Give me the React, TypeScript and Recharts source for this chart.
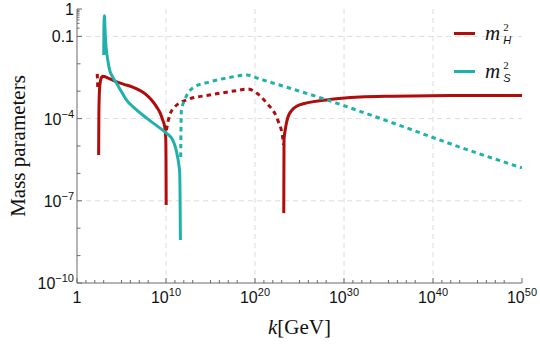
import React from "react";
import { LineChart, Line, XAxis, YAxis, CartesianGrid, Legend } from "recharts";

if (typeof document !== "undefined") document.body.style.margin = "0";

const RED = "#B00C0C";
const TEAL = "#20B2AA";
const FRAME = "#6b6b6b";

// segments as [log10(k/GeV), log10|m^2|]
// solid = positive, dotted = negative
const mH2Neg1: [number, number][] = [
  [2.27, -2.37], [2.3, -2.55], [2.33, -2.85],
];
const mH2Pos1: [number, number][] = [
  [2.43, -5.33], [2.46, -3.8], [2.52, -3.0], [2.62, -2.65], [2.75, -2.5], [2.9, -2.45],
  [3.5, -2.52], [4.46, -2.66], [5.3, -2.75], [6.26, -2.85], [7.1, -2.98], [7.83, -3.14],
  [8.4, -3.33], [8.96, -3.58], [9.35, -3.8], [9.63, -4.05], [9.85, -4.3], [9.97, -4.7],
  [10.0, -5.5], [10.02, -7.15],
];
const mH2Neg2: [number, number][] = [
  [10.04, -4.42], [10.42, -3.87], [10.98, -3.58], [12.3, -3.32], [14.9, -3.14],
  [17.9, -2.98], [19.2, -2.92], [20.2, -3.07], [21.3, -3.43], [22.55, -4.05],
  [23.1, -4.67], [23.2, -4.96],
];
const mH2Pos2: [number, number][] = [
  [23.23, -7.45], [23.26, -4.78], [23.45, -4.31], [23.9, -3.8], [25.0, -3.5],
  [28.0, -3.32], [31.8, -3.21], [35.5, -3.18], [42.0, -3.16], [50.0, -3.16],
];
const mS2Pos1: [number, number][] = [
  [3.0, -1.68], [3.03, -0.6], [3.08, -0.25], [3.15, -0.75], [3.2, -1.1], [3.3, -1.5],
  [3.45, -1.85], [3.67, -2.23], [4.0, -2.48], [4.43, -2.7], [5.0, -3.02], [5.55, -3.32],
  [6.4, -3.6], [7.38, -3.87], [8.3, -4.1], [9.29, -4.34], [10.04, -4.53], [10.75, -4.78],
  [11.1, -5.1], [11.3, -5.4], [11.45, -5.7], [11.54, -6.0], [11.58, -6.8], [11.62, -8.43],
];
const mS2Neg1: [number, number][] = [
  [11.65, -5.4], [11.73, -3.69], [12.1, -3.32], [13.0, -2.88], [14.9, -2.66],
  [16.8, -2.52], [19.1, -2.41], [20.5, -2.55], [28.1, -3.32], [35.5, -4.16],
  [43.0, -5.04], [50.0, -5.8],
];

const xMajorExps = [0, 10, 20, 30, 40, 50];
const xMinorSteps = [1, 2, 3, 5, 6, 7, 8];
const yMajorExps = [0, -1, -4, -7, -10];
const yMinorExps = [-2, -3, -5, -6, -8, -9];
const yTopFractions = [0.2, 0.3, 0.4, 0.5, 0.6, 0.7, 0.8, 0.9];

const rows = (pts: [number, number][]) => pts.map(([lk, lm]) => ({ k: 10 ** lk, m: 10 ** lm }));

const xTicks = [
  ...xMajorExps.map((e) => 10 ** e),
  ...xMajorExps.slice(0, -1).flatMap((e) => xMinorSteps.map((s) => 10 ** (e + s))),
].sort((a, b) => a - b);
const yTicks = [
  ...yMajorExps.map((e) => 10 ** e),
  ...yMinorExps.map((e) => 10 ** e),
  ...yTopFractions,
].sort((a, b) => a - b);

const near = (a: number, b: number) => Math.abs(a - b) < 1e-6;
const xIsMajor = (v: number) => xMajorExps.some((e) => near(Math.log10(v), e));
const yIsMajor = (v: number) => yMajorExps.some((e) => near(Math.log10(v), e));
const yIsDecade = (v: number) => near(Math.log10(v), Math.round(Math.log10(v)));

const LABEL_FONT = "'Liberation Sans', Arial, sans-serif";
const SERIF = "'Liberation Serif', 'Times New Roman', serif";

function BottomTick(props: any) {
  const { x, y, payload } = props;
  const v = payload.value;
  const major = xIsMajor(v);
  const n = Math.round(Math.log10(v));
  return (
    <g>
      <line x1={x} x2={x} y1={y} y2={y - (major ? 5 : 3)} stroke={FRAME} />
      {major && (
        <text x={x} y={y + 20} textAnchor="middle" fontSize={16} fontFamily={LABEL_FONT} fill="#111">
          {n === 0 ? (
            "1"
          ) : (
            <>
              10<tspan dy={-7} fontSize={11}>{n}</tspan>
            </>
          )}
        </text>
      )}
    </g>
  );
}

function TopTick(props: any) {
  const { x, y, payload } = props;
  const major = xIsMajor(payload.value);
  return <line x1={x} x2={x} y1={y} y2={y + (major ? 5 : 3)} stroke={FRAME} />;
}

function yTickLen(v: number) {
  if (yIsMajor(v)) return 5;
  if (yIsDecade(v)) return 3.5;
  return 2.5;
}

function LeftTick(props: any) {
  const { x, y, payload } = props;
  const v = payload.value;
  const n = Math.round(Math.log10(v));
  const major = yIsMajor(v);
  let label: React.ReactNode = null;
  if (major) {
    if (n === 0) label = "1";
    else if (n === -1) label = "0.1";
    else
      label = (
        <>
          10<tspan dy={-7} fontSize={11}>{"\u2212" + Math.abs(n)}</tspan>
        </>
      );
  }
  return (
    <g>
      <line x1={x} x2={x + yTickLen(v)} y1={y} y2={y} stroke={FRAME} />
      {major && (
        <text x={x - 3} y={y + 6} textAnchor="end" fontSize={16} fontFamily={LABEL_FONT} fill="#111">
          {label}
        </text>
      )}
    </g>
  );
}

function RightTick(props: any) {
  const { x, y, payload } = props;
  return <line x1={x} x2={x - yTickLen(payload.value)} y1={y} y2={y} stroke={FRAME} />;
}

function XTitle(props: any) {
  const vb = props.viewBox || { x: 77, y: 283, width: 445 };
  return (
    <text x={vb.x + vb.width / 2} y={vb.y + 51} textAnchor="middle" fontSize={21} fontFamily={SERIF} fill="#111">
      <tspan fontStyle="italic">k</tspan>[GeV]
    </text>
  );
}

function YTitle(props: any) {
  const vb = props.viewBox || { x: 0, y: 9, height: 274 };
  const cy = vb.y + vb.height / 2;
  return (
    <text
      x={18}
      y={cy}
      transform={`rotate(-90, 18, ${cy})`}
      textAnchor="middle"
      dominantBaseline="central"
      fontSize={21}
      fontFamily={SERIF}
      fill="#111"
    >
      Mass parameters
    </text>
  );
}

// m with the "2" stacked over the subscript, as in the legend
function MathName({ sub }: { sub: string }) {
  return (
    <span style={{ display: "inline-flex", alignItems: "center", fontFamily: SERIF, color: "#111" }}>
      <span style={{ fontStyle: "italic", fontSize: 21, lineHeight: "22px" }}>m</span>
      <span
        style={{
          display: "inline-flex",
          flexDirection: "column",
          fontSize: 11,
          lineHeight: "13px",
          marginLeft: 3,
          marginTop: 1,
        }}
      >
        <span>2</span>
        <span style={{ fontStyle: "italic", fontFamily: LABEL_FONT }}>{sub}</span>
      </span>
    </span>
  );
}

function LegendBox(props: any) {
  const entries = (props.payload || []).filter((p: any) => p.type !== "none");
  const items = entries.length
    ? entries.map((p: any) => ({ color: p.color, sub: String(p.value).slice(-1) }))
    : [
        { color: RED, sub: "H" },
        { color: TEAL, sub: "S" },
      ];
  return (
    <div>
      {items.map((it: any) => (
        <div key={it.sub} style={{ height: 38, display: "flex", alignItems: "center" }}>
          <span style={{ display: "inline-block", width: 21, height: 3, background: it.color, marginRight: 10 }} />
          <MathName sub={it.sub} />
        </div>
      ))}
    </div>
  );
}

const solid = { strokeWidth: 3, dot: false, activeDot: false, isAnimationActive: false, type: "monotone" as const };
const dotted = { ...solid, strokeDasharray: "4.5 4" };

export default function App() {
  return (
    <div style={{ width: 540, height: 347, background: "#fff" }}>
      <LineChart width={540} height={347} margin={{ top: 9, right: 18, bottom: 0, left: 0 }}>
        <CartesianGrid
          stroke="#dcdcdc"
          strokeDasharray="5 4"
          verticalValues={xMajorExps.slice(1, -1).map((e) => 10 ** e)}
          horizontalValues={[-1, -4, -7].map((e) => 10 ** e)}
        />
        <XAxis
          dataKey="k"
          type="number"
          scale="log"
          domain={[1, 1e50]}
          allowDataOverflow
          ticks={xTicks}
          interval={0}
          tickSize={0}
          tickMargin={0}
          tick={<BottomTick />}
          height={64}
          axisLine={{ stroke: FRAME }}
          label={<XTitle />}
        />
        <XAxis
          xAxisId="top"
          orientation="top"
          dataKey="k"
          type="number"
          scale="log"
          domain={[1, 1e50]}
          allowDataOverflow
          ticks={xTicks}
          interval={0}
          tickSize={0}
          tickMargin={0}
          tick={<TopTick />}
          height={0}
          axisLine={{ stroke: FRAME }}
        />
        <YAxis
          type="number"
          scale="log"
          domain={[1e-10, 1]}
          allowDataOverflow
          ticks={yTicks}
          interval={0}
          tickSize={0}
          tickMargin={0}
          tick={<LeftTick />}
          width={77}
          axisLine={{ stroke: FRAME }}
          label={<YTitle />}
        />
        <YAxis
          yAxisId="right"
          orientation="right"
          type="number"
          scale="log"
          domain={[1e-10, 1]}
          allowDataOverflow
          ticks={yTicks}
          interval={0}
          tickSize={0}
          tickMargin={0}
          tick={<RightTick />}
          width={0}
          axisLine={{ stroke: FRAME }}
        />
        <Legend
          layout="vertical"
          align="center"
          verticalAlign="middle"
          content={<LegendBox />}
          wrapperStyle={{ left: 454, top: 14, width: 80, height: 76 }}
        />
        <Line data={rows(mH2Neg1)} dataKey="m" stroke={RED} legendType="none" {...dotted} />
        <Line data={rows(mH2Pos1)} dataKey="m" stroke={RED} name="mH" {...solid} />
        <Line data={rows(mH2Neg2)} dataKey="m" stroke={RED} legendType="none" {...dotted} />
        <Line data={rows(mH2Pos2)} dataKey="m" stroke={RED} legendType="none" {...solid} />
        <Line data={rows(mS2Pos1)} dataKey="m" stroke={TEAL} name="mS" {...solid} />
        <Line data={rows(mS2Neg1)} dataKey="m" stroke={TEAL} legendType="none" {...dotted} />
        <Line
          xAxisId="top"
          yAxisId="right"
          data={rows(mS2Neg1)}
          dataKey="m"
          stroke="none"
          legendType="none"
          dot={false}
          activeDot={false}
          isAnimationActive={false}
        />
      </LineChart>
    </div>
  );
}
